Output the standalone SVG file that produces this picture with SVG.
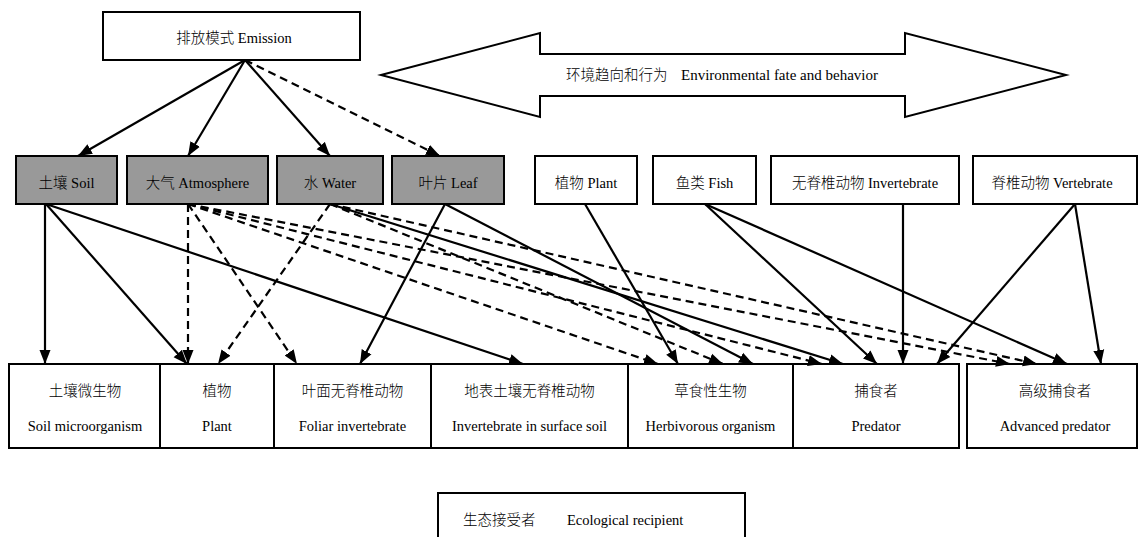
<svg xmlns="http://www.w3.org/2000/svg" width="1138" height="537" viewBox="0 0 1138 537">
<style>
  .box{fill:#fff;stroke:#000;stroke-width:2}
  .gbox{fill:#999;stroke:#000;stroke-width:2}
  .t{font-family:"Liberation Serif","Noto Sans CJK SC",serif;font-size:14.5px;fill:#000;font-weight:300}
  .c{text-anchor:middle}
  .ln{fill:none;stroke:#000;stroke-width:2.2;marker-end:url(#ah)}
  .dl{fill:none;stroke:#000;stroke-width:2.2;stroke-dasharray:8,5;marker-end:url(#ah)}
  .big{fill:#fff;stroke:#000;stroke-width:2}
</style>
<defs>
  <marker id="ah" markerUnits="userSpaceOnUse" markerWidth="16" markerHeight="12" refX="14" refY="6" orient="auto" viewBox="0 0 16 12">
    <path d="M0,0.5 L14,6 L0,11.5 Z" fill="#000" stroke="none"/>
  </marker>
</defs>
<rect width="1138" height="537" fill="#fff"/>

<g id="emission">
  <rect class="box" x="103" y="12" width="257" height="48"/>
  <text class="t c" x="234" y="43">排放模式 Emission</text>
</g>

<g id="fate-arrow">
  <polygon class="big" points="381,75 540,33 540,54 905,54 905,33 1066,75 905,117 905,96 540,96 540,117"/>
  <text class="t" x="566" y="80">环境趋向和行为</text>
  <text class="t" x="878" y="80" text-anchor="end" style="font-size:15px">Environmental fate and behavior</text>
</g>

<g id="soil"><rect class="gbox" x="16" y="156" width="101" height="48"/><text class="t c" x="66.5" y="188">土壤 Soil</text></g>
<g id="atmosphere"><rect class="gbox" x="127" y="156" width="141" height="48"/><text class="t c" x="197.5" y="188">大气 Atmosphere</text></g>
<g id="water"><rect class="gbox" x="277" y="156" width="106" height="48"/><text class="t c" x="330" y="188">水 Water</text></g>
<g id="leaf"><rect class="gbox" x="392" y="156" width="112" height="48"/><text class="t c" x="448" y="188">叶片 Leaf</text></g>
<g id="plant-src"><rect class="box" x="535" y="156" width="102" height="48"/><text class="t c" x="586" y="188">植物 Plant</text></g>
<g id="fish"><rect class="box" x="653" y="156" width="103" height="48"/><text class="t c" x="704.5" y="188">鱼类 Fish</text></g>
<g id="invertebrate"><rect class="box" x="771" y="156" width="188" height="48"/><text class="t c" x="865" y="188">无脊椎动物 Invertebrate</text></g>
<g id="vertebrate"><rect class="box" x="973" y="156" width="164" height="48"/><text class="t c" x="1052" y="188">脊椎动物 Vertebrate</text></g>

<g id="soil-microorganism"><rect class="box" x="9" y="364" width="151" height="84"/><text class="t c" x="85" y="396">土壤微生物</text><text class="t c" x="85" y="431">Soil microorganism</text></g>
<g id="plant"><rect class="box" x="160" y="364" width="114" height="84"/><text class="t c" x="217" y="396">植物</text><text class="t c" x="217" y="431">Plant</text></g>
<g id="foliar-invertebrate"><rect class="box" x="274" y="364" width="157" height="84"/><text class="t c" x="352.5" y="396">叶面无脊椎动物</text><text class="t c" x="352.5" y="431">Foliar invertebrate</text></g>
<g id="surface-soil-invertebrate"><rect class="box" x="431" y="364" width="197" height="84"/><text class="t c" x="529.5" y="396">地表土壤无脊椎动物</text><text class="t c" x="529.5" y="431">Invertebrate in surface soil</text></g>
<g id="herbivorous"><rect class="box" x="628" y="364" width="165" height="84"/><text class="t c" x="710.5" y="396">草食性生物</text><text class="t c" x="710.5" y="431">Herbivorous organism</text></g>
<g id="predator"><rect class="box" x="793" y="364" width="166" height="84"/><text class="t c" x="876" y="396">捕食者</text><text class="t c" x="876" y="431">Predator</text></g>
<g id="advanced-predator"><rect class="box" x="967" y="364" width="170" height="84"/><text class="t c" x="1055" y="396">高级捕食者</text><text class="t c" x="1055" y="431">Advanced predator</text></g>

<g id="legend"><rect class="box" x="438" y="493" width="307" height="60"/><text class="t" x="463" y="525">生态接受者</text><text class="t" x="567" y="525">Ecological recipient</text></g>

<g id="connectors">
  <line class="ln" x1="245" y1="60" x2="78" y2="156"/>
  <line class="ln" x1="245" y1="60" x2="188" y2="156"/>
  <line class="ln" x1="245" y1="60" x2="330" y2="156"/>
  <line class="dl" x1="245" y1="60" x2="440" y2="156"/>

  <line class="ln" x1="45" y1="204" x2="45" y2="364"/>
  <line class="ln" x1="46" y1="204" x2="187" y2="364"/>
  <line class="ln" x1="46" y1="204" x2="523" y2="364"/>
  <line class="ln" x1="445" y1="204" x2="360" y2="364"/>
  <line class="ln" x1="445" y1="204" x2="753" y2="364"/>
  <line class="ln" x1="330" y1="204" x2="843" y2="364"/>
  <line class="ln" x1="585" y1="204" x2="678" y2="364"/>
  <line class="ln" x1="705" y1="204" x2="877" y2="364"/>
  <line class="ln" x1="705" y1="204" x2="1067" y2="364"/>
  <line class="ln" x1="903" y1="204" x2="903" y2="364"/>
  <line class="ln" x1="1075" y1="204" x2="937" y2="364"/>
  <line class="ln" x1="1075" y1="204" x2="1101" y2="364"/>

  <line class="dl" x1="188" y1="204" x2="188" y2="364"/>
  <line class="dl" x1="188" y1="204" x2="297" y2="364"/>
  <line class="dl" x1="188" y1="204" x2="658" y2="364"/>
  <line class="dl" x1="188" y1="204" x2="822" y2="364"/>
  <line class="dl" x1="188" y1="204" x2="1010" y2="364"/>
  <line class="dl" x1="330" y1="204" x2="218" y2="364"/>
  <line class="dl" x1="330" y1="204" x2="723" y2="364"/>
  <line class="dl" x1="330" y1="204" x2="1037" y2="364"/>
</g>
</svg>
